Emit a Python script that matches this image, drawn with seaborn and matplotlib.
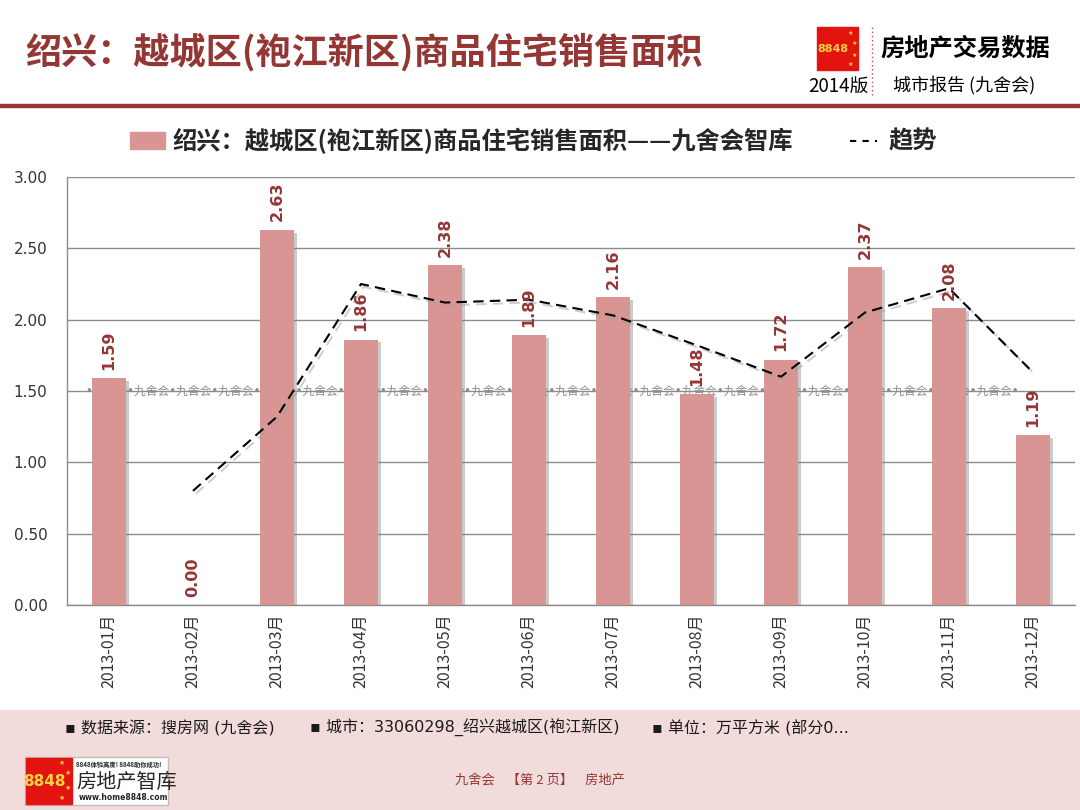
import numpy as np
import pandas as pd
import seaborn as sns
import matplotlib.pyplot as plt
import matplotlib.patheffects as pe
from matplotlib.patches import Rectangle
from matplotlib.lines import Line2D

# data
months = ['2013-01月', '2013-02月', '2013-03月', '2013-04月', '2013-05月', '2013-06月',
          '2013-07月', '2013-08月', '2013-09月', '2013-10月', '2013-11月', '2013-12月']
area = [1.59, 0.00, 2.63, 1.86, 2.38, 1.89, 2.16, 1.48, 1.72, 2.37, 2.08, 1.19]
trend = [np.nan, 0.80, 1.32, 2.25, 2.12, 2.14, 2.03, 1.82, 1.60, 2.05, 2.22, 1.63]
yticks = [0.0, 0.5, 1.0, 1.5, 2.0, 2.5, 3.0]

title = '绍兴：越城区(袍江新区)商品住宅销售面积'
legend_bar = '绍兴：越城区(袍江新区)商品住宅销售面积——九舍会智库'
legend_line = '趋势'

sns.set_style('white')
plt.rcParams['font.family'] = ['Noto Sans CJK SC', 'DejaVu Sans']

DARK_RED = '#943634'
BAR = '#D99594'
GRID = '#8C8C8C'

fig = plt.figure(figsize=(10.8, 8.1), dpi=100)

# header
fig.text(25 / 1080, 1 - 52 / 810, title, fontsize=26, fontweight='bold',
         color=DARK_RED, va='center', ha='left')
fig.add_artist(Line2D([0, 1], [1 - 106 / 810] * 2, color=DARK_RED, lw=3.2))

# top-right logo
fig.patches.append(Rectangle((817 / 1080, 1 - 70 / 810), 41 / 1080, 43 / 810,
                             transform=fig.transFigure, color='#E3140F', zorder=2))
fig.text(833 / 1080, 1 - 49 / 810, '8848', fontsize=8, fontweight='bold',
         color='#F7D23E', ha='center', va='center', family='DejaVu Sans', zorder=3)
for sx, sy in [(850, 33), (854, 43), (854, 55), (850, 64)]:
    fig.text(sx / 1080, 1 - sy / 810, '★', fontsize=4.5, color='#F7D23E',
             ha='center', va='center', family='DejaVu Sans', zorder=3)
fig.add_artist(Line2D([872 / 1080] * 2, [1 - 27 / 810, 1 - 97 / 810], color='#C0504D',
                      lw=1, linestyle=(0, (1, 2))))
fig.text(880 / 1080, 1 - 49 / 810, '房地产交易数据', fontsize=17.5, fontweight='bold',
         color='black', ha='left', va='center')
fig.text(808 / 1080, 1 - 86 / 810, '2014版', fontsize=13.5, color='black',
         ha='left', va='center')
fig.text(893 / 1080, 1 - 86 / 810, '城市报告 (九舍会)', fontsize=13, color='black',
         ha='left', va='center')

# legend
fig.patches.append(Rectangle((130 / 1080, 1 - 149 / 810), 35 / 1080, 17 / 810,
                             transform=fig.transFigure, color=BAR))
fig.text(172 / 1080, 1 - 141 / 810, legend_bar, fontsize=17.5, fontweight='bold',
         ha='left', va='center')
fig.add_artist(Line2D([850 / 1080, 877 / 1080], [1 - 141 / 810] * 2, color='black',
                      lw=1.5, linestyle=(0, (3, 3))))
fig.text(889 / 1080, 1 - 141 / 810, legend_line, fontsize=17.5, fontweight='bold',
         ha='left', va='center')

# chart
ax = fig.add_axes([67 / 1080, 1 - 605 / 810, 1008 / 1080, 428 / 810])
df = pd.DataFrame({'month': months, 'area': area})
sns.barplot(data=df, x='month', y='area', color=BAR, saturation=1, width=0.4, ax=ax, zorder=3)
for p in ax.patches:
    p.set_path_effects([pe.SimplePatchShadow(offset=(2, -2), shadow_rgbFace='#7F7F7F', alpha=0.4),
                        pe.Normal()])
    p.set_edgecolor('none')

ax.plot(range(len(months)), trend, color='black', lw=1.5, linestyle=(0, (5, 3)), zorder=4,
        path_effects=[pe.SimpleLineShadow(offset=(2, -2), shadow_color='#A0A0A0', alpha=0.5),
                      pe.Normal()])

for i, v in enumerate(area):
    ax.annotate(f'{v:.2f}', (i, v), xytext=(0, 6), textcoords='offset points',
                rotation=90, ha='center', va='bottom', fontsize=11.5, fontweight='bold',
                color=DARK_RED, family='DejaVu Sans', zorder=5)

ax.text(-0.28, 1.5, '•九舍会' * 22 + '•', fontsize=8.5, color='#8C8C8C', va='center',
        ha='left', zorder=2, family=['DejaVu Sans', 'Noto Sans CJK SC'])

ax.set_ylim(0, 3.0)
ax.set_xlim(-0.5, len(months) - 0.5)
ax.set_yticks(yticks)
ax.set_yticklabels([f'{t:.2f}' for t in yticks], fontsize=11, color='#333333',
                   family='DejaVu Sans')
ax.set_xticks(range(len(months)))
ax.set_xticklabels(months, rotation=90, fontsize=11.5, color='#333333')
ax.tick_params(axis='both', length=0)
ax.tick_params(axis='y', pad=14)
ax.tick_params(axis='x', pad=6)
ax.set_xlabel('')
ax.set_ylabel('')
ax.yaxis.grid(True, color=GRID, lw=1)
ax.set_axisbelow(True)
for s in ['top', 'right']:
    ax.spines[s].set_visible(False)
for s in ['left', 'bottom']:
    ax.spines[s].set_color(GRID)
    ax.spines[s].set_linewidth(1)

# footer
fig.patches.append(Rectangle((0, 0), 1, 1 - 710 / 810, transform=fig.transFigure,
                             color='#F2DCDB', zorder=0))
for fx, txt in [(65, '▪ 数据来源：搜房网 (九舍会)'),
                (310, '▪ 城市：33060298_绍兴越城区(袍江新区)'),
                (652, '▪ 单位：万平方米 (部分0...')]:
    fig.text(fx / 1080, 1 - 728 / 810, txt, fontsize=11.5, color='#1A1A1A',
             ha='left', va='center', family=['DejaVu Sans', 'Noto Sans CJK SC'])

# bottom-left logo
fig.patches.append(Rectangle((25 / 1080, 1 - 805 / 810), 143 / 1080, 48 / 810,
                             transform=fig.transFigure, facecolor='white',
                             edgecolor='#BFBFBF', lw=1, zorder=2))
fig.patches.append(Rectangle((26 / 1080, 1 - 804 / 810), 46 / 1080, 46 / 810,
                             transform=fig.transFigure, color='#E3140F', zorder=3))
fig.text(44 / 1080, 1 - 781 / 810, '8848', fontsize=11, fontweight='bold', color='#F7D23E',
         ha='center', va='center', family='DejaVu Sans', zorder=4)
for sx, sy in [(62, 763), (68, 773), (68, 788), (62, 798)]:
    fig.text(sx / 1080, 1 - sy / 810, '★', fontsize=5, color='#F7D23E',
             ha='center', va='center', family='DejaVu Sans', zorder=4)
fig.text(76 / 1080, 1 - 764 / 810, '8848体验高度! 8848助你成功!', fontsize=4.5,
         fontweight='bold', ha='left', va='center', zorder=4)
fig.text(76 / 1080, 1 - 782 / 810, '房地产智库', fontsize=14.5, ha='left', va='center', zorder=4)
fig.text(79 / 1080, 1 - 798 / 810, 'www.home8848.com', fontsize=5.5, fontweight='bold',
         ha='left', va='center', family='DejaVu Sans', zorder=4)

fig.text(540 / 1080, 1 - 781 / 810, '九舍会    【第 2 页】    房地产', fontsize=9.5,
         color=DARK_RED, ha='center', va='center')

fig.savefig('out.png', dpi=100)
